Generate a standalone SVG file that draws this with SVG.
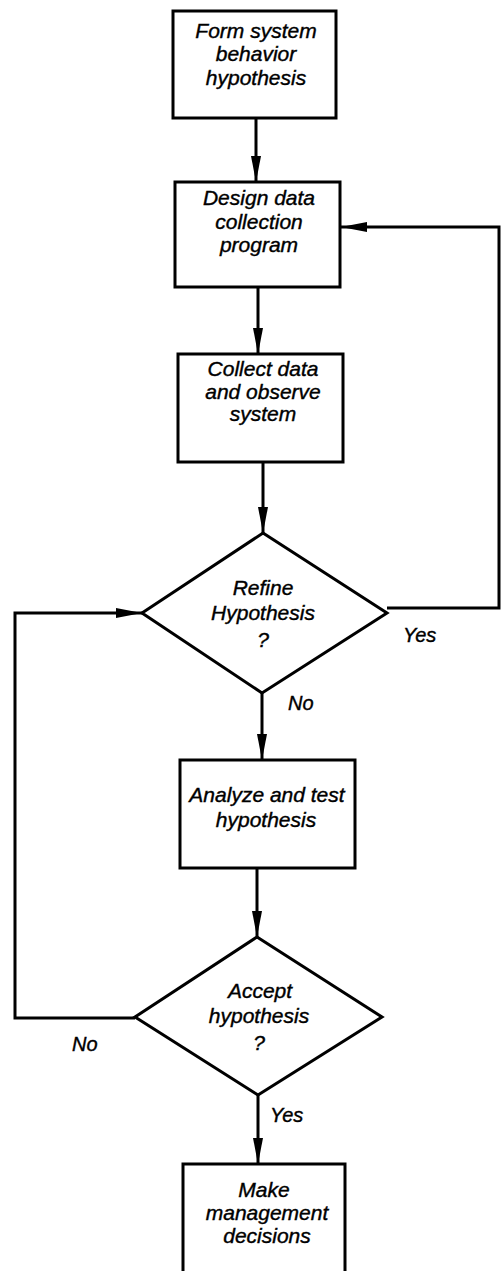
<svg xmlns="http://www.w3.org/2000/svg" width="502" height="1271" viewBox="0 0 502 1271">
<style>
.box{fill:#fff;stroke:#000;stroke-width:3}
.t{font-family:"Liberation Sans",Arial,sans-serif;font-style:italic;font-size:21px;fill:#000;stroke:#000;stroke-width:0.4;text-anchor:middle}
.lbl{font-family:"Liberation Sans",Arial,sans-serif;font-style:italic;font-size:20px;fill:#000;stroke:#000;stroke-width:0.4}
.c{fill:none;stroke:#000;stroke-width:3}
</style>
<defs>
<marker id="ah" viewBox="0 0 26 10" refX="26" refY="5" markerWidth="26" markerHeight="10" markerUnits="userSpaceOnUse" orient="auto">
<path d="M0,0 L26,5 L0,10 z" fill="#000"/>
</marker>
</defs>
<g id="connectors">
<path class="c" d="M256,118 V182" marker-end="url(#ah)"/>
<path class="c" d="M258,287 V354" marker-end="url(#ah)"/>
<path class="c" d="M263,462 V533" marker-end="url(#ah)"/>
<path class="c" d="M262,693 V760" marker-end="url(#ah)"/>
<path class="c" d="M257,868 V937" marker-end="url(#ah)"/>
<path class="c" d="M258,1095 V1164" marker-end="url(#ah)"/>
<path class="c" d="M387,608 H499 V227 H341" marker-end="url(#ah)"/>
<path class="c" d="M135,1018 H15 V613 H142" marker-end="url(#ah)"/>
<text class="lbl" x="403" y="642">Yes</text>
<text class="lbl" x="288" y="710">No</text>
<text class="lbl" x="270" y="1122">Yes</text>
<text class="lbl" x="72" y="1051">No</text>
</g>
<g id="n1">
<rect class="box" x="173" y="11" width="163" height="107"/>
<text class="t" x="256" y="38">Form system</text>
<text class="t" x="256" y="61">behavior</text>
<text class="t" x="256" y="85">hypothesis</text>
</g>
<g id="n2">
<rect class="box" x="175" y="182" width="165" height="105"/>
<text class="t" x="259" y="205">Design data</text>
<text class="t" x="259" y="229">collection</text>
<text class="t" x="259" y="252">program</text>
</g>
<g id="n3">
<rect class="box" x="178" y="354" width="165" height="108"/>
<text class="t" x="263" y="376">Collect data</text>
<text class="t" x="263" y="399">and observe</text>
<text class="t" x="263" y="421">system</text>
</g>
<g id="n4">
<polygon class="box" points="263,533 387,613 262,693 142,613"/>
<text class="t" x="263" y="595">Refine</text>
<text class="t" x="263" y="620">Hypothesis</text>
<text class="t" x="263" y="647">?</text>
</g>
<g id="n5">
<rect class="box" x="180" y="760" width="175" height="108"/>
<text class="t" x="267" y="802">Analyze and test</text>
<text class="t" x="266" y="827">hypothesis</text>
</g>
<g id="n6">
<polygon class="box" points="257,937 382,1017 258,1095 135,1017"/>
<text class="t" x="260" y="998">Accept</text>
<text class="t" x="259" y="1023">hypothesis</text>
<text class="t" x="259" y="1050">?</text>
</g>
<g id="n7">
<rect class="box" x="183" y="1164" width="162" height="112"/>
<text class="t" x="264" y="1197">Make</text>
<text class="t" x="267" y="1220">management</text>
<text class="t" x="267" y="1243">decisions</text>
</g>
</svg>
